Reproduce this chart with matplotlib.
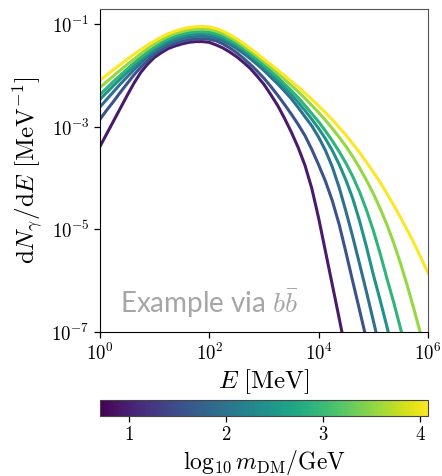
import numpy as np
import matplotlib
matplotlib.use("Agg")
import matplotlib.pyplot as plt
from matplotlib import cm, colors, ticker

plt.rcParams["mathtext.fontset"] = "cm"
plt.rcParams["font.family"] = ["cmr10", "DejaVu Serif"]
plt.rcParams["axes.unicode_minus"] = False
plt.rcParams["axes.formatter.use_mathtext"] = True

# log10 of the dark-matter mass (GeV) for each spectrum
log_mass = [0.95, 1.55, 1.95, 2.40, 2.90, 3.55, 4.08]

# shared sampling of log10 E [MeV]
log_e = [0.0, 0.125, 0.25, 0.375, 0.5, 0.625, 0.75, 0.875,
         1.0, 1.125, 1.25, 1.375, 1.5, 1.625, 1.75, 1.875,
         2.0, 2.125, 2.25, 2.375, 2.5, 2.625, 2.75, 2.875,
         3.0, 3.125, 3.25, 3.375, 3.5, 3.625, 3.75, 3.875,
         4.0, 4.125, 4.25, 4.375, 4.5, 4.625, 4.75, 4.875,
         5.0, 5.125, 5.25, 5.375, 5.5, 5.625, 5.75, 5.875, 6.0]

# log10 dN/dE [MeV^-1], one list per mass (lightest first)
spec_m1 = [-3.38, -3.13, -2.88, -2.63, -2.38, -2.14, -1.93, -1.77,
           -1.64, -1.55, -1.47, -1.42, -1.38, -1.35, -1.335, -1.335,
           -1.35, -1.40, -1.46, -1.54, -1.63, -1.74, -1.86, -2.01,
           -2.17, -2.37, -2.58, -2.83, -3.10, -3.40, -3.75, -4.20,
           -4.78, -5.43, -6.08, -6.73, -7.40]
spec_m2 = [-2.85, -2.67, -2.50, -2.32, -2.15, -1.98, -1.83, -1.70,
           -1.58, -1.49, -1.42, -1.37, -1.33, -1.30, -1.285, -1.28,
           -1.29, -1.32, -1.38, -1.46, -1.55, -1.66, -1.78, -1.91,
           -2.05, -2.21, -2.38, -2.56, -2.75, -2.95, -3.17, -3.44,
           -3.74, -4.06, -4.44, -4.90, -5.45, -6.02, -6.58, -7.15,
           -7.72]
spec_m3 = [-2.61, -2.46, -2.31, -2.16, -2.02, -1.88, -1.75, -1.63,
           -1.53, -1.445, -1.37, -1.32, -1.28, -1.25, -1.235, -1.23,
           -1.24, -1.27, -1.32, -1.39, -1.47, -1.565, -1.67, -1.78,
           -1.90, -2.03, -2.16, -2.30, -2.45, -2.62, -2.80, -2.98,
           -3.20, -3.46, -3.78, -4.18, -4.65, -5.15, -5.68, -6.22,
           -6.78, -7.35, -7.92]
spec_m4 = [-2.46, -2.325, -2.19, -2.06, -1.93, -1.81, -1.69, -1.58,
           -1.48, -1.395, -1.32, -1.27, -1.23, -1.20, -1.185, -1.18,
           -1.19, -1.22, -1.27, -1.34, -1.42, -1.51, -1.61, -1.72,
           -1.84, -1.96, -2.09, -2.23, -2.37, -2.52, -2.68, -2.85,
           -3.03, -3.23, -3.46, -3.73, -4.04, -4.40, -4.84, -5.34,
           -5.88, -6.38, -6.90, -7.45]
spec_m5 = [-2.37, -2.24, -2.11, -1.99, -1.87, -1.75, -1.64, -1.535,
           -1.44, -1.355, -1.28, -1.23, -1.19, -1.16, -1.145, -1.14,
           -1.15, -1.18, -1.23, -1.30, -1.38, -1.47, -1.57, -1.68,
           -1.79, -1.91, -2.03, -2.16, -2.29, -2.43, -2.58, -2.74,
           -2.90, -3.08, -3.27, -3.48, -3.71, -3.97, -4.27, -4.62,
           -5.02, -5.47, -5.96, -6.43, -6.94, -7.48]
spec_m6 = [-2.23, -2.115, -2.00, -1.89, -1.78, -1.675, -1.57, -1.47,
           -1.38, -1.30, -1.23, -1.18, -1.14, -1.11, -1.095, -1.09,
           -1.10, -1.13, -1.18, -1.25, -1.33, -1.42, -1.52, -1.62,
           -1.73, -1.84, -1.95, -2.07, -2.19, -2.31, -2.44, -2.58,
           -2.72, -2.87, -3.03, -3.20, -3.38, -3.58, -3.80, -4.04,
           -4.30, -4.59, -4.91, -5.27, -5.67, -6.11, -6.58, -7.08,
           -7.60]
spec_m7 = [-2.09, -1.985, -1.88, -1.78, -1.68, -1.58, -1.49, -1.40,
           -1.32, -1.245, -1.18, -1.13, -1.09, -1.06, -1.045, -1.04,
           -1.05, -1.08, -1.13, -1.20, -1.28, -1.37, -1.47, -1.57,
           -1.68, -1.78, -1.89, -2.00, -2.11, -2.22, -2.34, -2.46,
           -2.59, -2.72, -2.86, -3.01, -3.16, -3.33, -3.50, -3.69,
           -3.88, -4.08, -4.30, -4.53, -4.77, -5.02, -5.28, -5.56,
           -5.85]

spectra = [spec_m1, spec_m2, spec_m3, spec_m4, spec_m5, spec_m6, spec_m7]

cbar_min, cbar_max = 0.70, 4.08
cbar_ticks = [1, 2, 3, 4]

fig = plt.figure(figsize=(4.42, 4.76), dpi=100)
ax = fig.add_axes([0.2262, 0.3025, 0.7421, 0.6786])
cax = fig.add_axes([0.2262, 0.126, 0.7421, 0.0336])

norm = colors.Normalize(vmin=cbar_min, vmax=cbar_max)
cmap = plt.get_cmap("viridis")

for lm, spec in zip(log_mass, spectra):
    le = np.array(log_e[:len(spec)])
    ax.plot(10.0 ** le, 10.0 ** np.array(spec), color=cmap(norm(lm)),
            lw=2.2, solid_joinstyle="round")

ax.set_xscale("log")
ax.set_yscale("log")
ax.set_xlim(1, 1e6)
ax.set_ylim(1e-7, 2e-1)
ax.xaxis.set_major_locator(ticker.FixedLocator([1, 1e2, 1e4, 1e6]))
ax.yaxis.set_major_locator(ticker.FixedLocator([1e-7, 1e-5, 1e-3, 1e-1]))
ax.xaxis.set_minor_locator(ticker.NullLocator())
ax.yaxis.set_minor_locator(ticker.NullLocator())
ax.tick_params(axis="both", which="major", labelsize=13.5, length=4.5,
               width=0.9, direction="out", pad=3)
for side in ("top", "right"):
    ax.spines[side].set_color("#555555")
for side in ("left", "bottom"):
    ax.spines[side].set_color("black")

ax.set_xlabel(r"$E\ [\mathrm{MeV}]$", fontsize=18, labelpad=3)
ax.set_ylabel(r"$\mathrm{d}N_\gamma/\mathrm{d}E\ [\mathrm{MeV}^{-1}]$",
              fontsize=18, labelpad=5)

ax.text(0.06, 0.059, r"Example via $b\bar{b}$", transform=ax.transAxes,
        fontsize=20, color="#a6a6a6", family=["Lato", "DejaVu Sans"],
        ha="left", va="baseline")

sm = cm.ScalarMappable(norm=norm, cmap=cmap)
cb = fig.colorbar(sm, cax=cax, orientation="horizontal")
cb.set_ticks(cbar_ticks)
cb.ax.xaxis.set_major_formatter(ticker.FormatStrFormatter(r"$%d$"))
cb.ax.tick_params(labelsize=13.5, length=4, width=0.9, pad=3)
cb.outline.set_edgecolor("#444444")
cb.set_label(r"$\mathrm{log}_{10}\,m_\mathrm{DM}/\mathrm{GeV}$",
             fontsize=17, labelpad=3)

fig.savefig("out.png", dpi=100)
